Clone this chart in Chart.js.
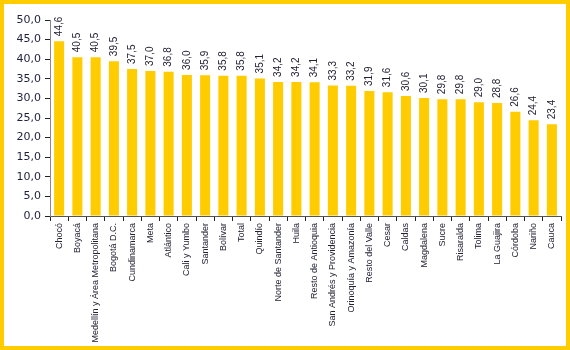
<!DOCTYPE html>
<html>
<head>
<meta charset="utf-8">
<script src="https://cdn.jsdelivr.net/npm/chart.js@4.4.0/dist/chart.umd.min.js"></script>
<style>
    html, body { margin: 0; padding: 0; background: #fff; }
    #frame {
        width: 570px; height: 350px; box-sizing: border-box;
        border: 4px solid #FFCC00; background: #fff;
    }
    #chart-box { position: relative; width: 562px; height: 342px; }
</style>
</head>
<body>
<div id="frame"><div id="chart-box"><canvas id="chart"></canvas></div></div>
<script>
// Chart data
const regions = [
    'Chocó', 'Boyacá', 'Medellín y Área Metropolitana', 'Bogotá D.C.', 'Cundinamarca',
    'Meta', 'Atlántico', 'Cali y Yumbo', 'Santander', 'Bolívar', 'Total', 'Quindío',
    'Norte de Santander', 'Huila', 'Resto de Antioquia', 'San Andrés y Providencia',
    'Orinoquía y Amazonía', 'Resto del Valle', 'Cesar', 'Caldas', 'Magdalena', 'Sucre',
    'Risaralda', 'Tolima', 'La Guajira', 'Córdoba', 'Nariño', 'Cauca'
];
const values = [
    44.6, 40.5, 40.5, 39.5, 37.5, 37.0, 36.8, 36.0, 35.9, 35.8, 35.8, 35.1,
    34.2, 34.2, 34.1, 33.3, 33.2, 31.9, 31.6, 30.6, 30.1, 29.8, 29.8, 29.0,
    28.8, 26.6, 24.4, 23.4
];
const yMin = 0;
const yMax = 50;
const yStep = 5;

const fmt = v => v.toFixed(1).replace('.', ',');

// Draws the rotated value labels above each bar
const valueLabels = {
    id: 'valueLabels',
    afterDatasetsDraw(chart) {
        const ctx = chart.ctx;
        const meta = chart.getDatasetMeta(0);
        ctx.save();
        ctx.font = '10px "Liberation Sans", sans-serif';
        ctx.fillStyle = '#222233';
        ctx.textAlign = 'left';
        ctx.textBaseline = 'middle';
        meta.data.forEach((bar, i) => {
            ctx.save();
            ctx.translate(bar.x, bar.y - 5);
            ctx.rotate(-Math.PI / 2);
            ctx.fillText(fmt(values[i]), 0, 0);
            ctx.restore();
        });
        ctx.restore();
    }
};

const ctx = document.getElementById('chart').getContext('2d');
const chart = new Chart(ctx, {
    type: 'bar',
    data: {
        labels: regions,
        datasets: [{
            data: values,
            backgroundColor: '#FFCC00',
            borderWidth: 0,
            barPercentage: 0.55,
            categoryPercentage: 1.0
        }]
    },
    options: {
        responsive: true,
        maintainAspectRatio: false,
        animation: false,
        layout: { padding: { top: 16, right: 5, left: 0, bottom: 0 } },
        plugins: {
            legend: { display: false },
            tooltip: { enabled: false }
        },
        scales: {
            x: {
                grid: {
                    offset: true,
                    drawOnChartArea: false,
                    drawTicks: true,
                    tickLength: 5,
                    color: '#222222'
                },
                border: { color: '#555555', width: 1 },
                ticks: {
                    autoSkip: false,
                    maxRotation: 90,
                    minRotation: 90,
                    padding: 2,
                    color: '#222233',
                    font: { family: '"Liberation Sans", sans-serif', size: 9 }
                },
                afterFit(scale) { scale.height = 130; }
            },
            y: {
                min: yMin,
                max: yMax,
                grid: {
                    drawOnChartArea: false,
                    drawTicks: true,
                    tickLength: 5,
                    color: '#222222'
                },
                border: { color: '#888888', width: 1 },
                ticks: {
                    stepSize: yStep,
                    padding: 4,
                    color: '#1f1f3f',
                    font: { family: '"DejaVu Sans", sans-serif', size: 11 },
                    callback: v => fmt(v)
                },
                afterFit(scale) { scale.width = 46; }
            }
        }
    },
    plugins: [valueLabels]
});
</script>
</body>
</html>
